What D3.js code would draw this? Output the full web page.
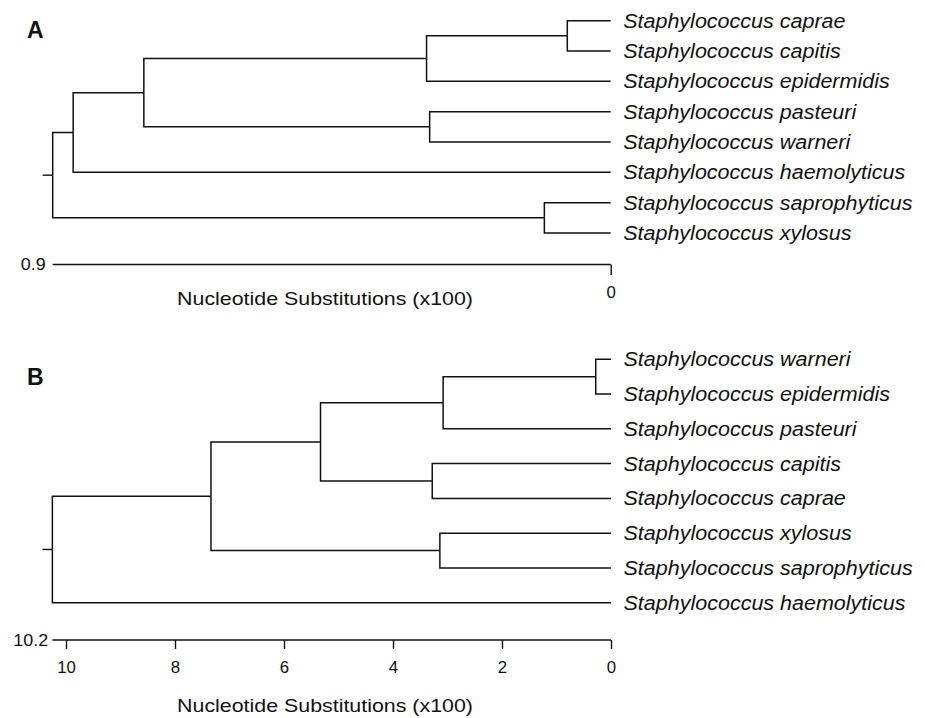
<!DOCTYPE html>
<html>
<head>
<meta charset="utf-8">
<script src="https://cdn.jsdelivr.net/npm/d3@7"></script>
<style>
  body { margin: 0; background: #fff; }
</style>
</head>
<body>
<div id="chart"></div>
<script>
// panel A: leaf order top to bottom, internal nodes [id, children, height]
const leavesA = [
  "Staphylococcus caprae",
  "Staphylococcus capitis",
  "Staphylococcus epidermidis",
  "Staphylococcus pasteuri",
  "Staphylococcus warneri",
  "Staphylococcus haemolyticus",
  "Staphylococcus saprophyticus",
  "Staphylococcus xylosus"
];
const nodesA = [
  ["a1", ["Staphylococcus caprae", "Staphylococcus capitis"], 0.070],
  ["a2", ["a1", "Staphylococcus epidermidis"], 0.297],
  ["a3", ["Staphylococcus pasteuri", "Staphylococcus warneri"], 0.292],
  ["a4", ["a2", "a3"], 0.753],
  ["a5", ["a4", "Staphylococcus haemolyticus"], 0.867],
  ["a6", ["Staphylococcus saprophyticus", "Staphylococcus xylosus"], 0.107],
  ["a7", ["a5", "a6"], 0.9]
];
const ticksA = [0];
const maxA = 0.9;

// panel B
const leavesB = [
  "Staphylococcus warneri",
  "Staphylococcus epidermidis",
  "Staphylococcus pasteuri",
  "Staphylococcus capitis",
  "Staphylococcus caprae",
  "Staphylococcus xylosus",
  "Staphylococcus saprophyticus",
  "Staphylococcus haemolyticus"
];
const nodesB = [
  ["b1", ["Staphylococcus warneri", "Staphylococcus epidermidis"], 0.28],
  ["b2", ["b1", "Staphylococcus pasteuri"], 3.08],
  ["b3", ["Staphylococcus capitis", "Staphylococcus caprae"], 3.28],
  ["b4", ["b2", "b3"], 5.33],
  ["b5", ["Staphylococcus xylosus", "Staphylococcus saprophyticus"], 3.14],
  ["b6", ["b4", "b5"], 7.34],
  ["b7", ["b6", "Staphylococcus haemolyticus"], 10.25]
];
const ticksB = [10, 8, 6, 4, 2, 0];
const maxB = 10.2;

const axisTitle = "Nucleotide Substitutions (x100)";
const ink = "#111";
const font = "'Liberation Sans', Arial, sans-serif";

const svg = d3.select("#chart").append("svg")
    .attr("width", 925)
    .attr("height", 718);

function stretch(sel, k) {
    sel.each(function() {
        const len = this.getComputedTextLength();
        d3.select(this)
            .attr("textLength", len * k)
            .attr("lengthAdjust", "spacingAndGlyphs");
    });
}

function buildTree(nodes) {
    const byId = {};
    nodes.forEach(([id, kids, h]) => {
        byId[id] = {
            name: id,
            height: h,
            children: kids.map(k => byId[k] || { name: k, height: 0 })
        };
    });
    return d3.hierarchy(byId[nodes[nodes.length - 1][0]]);
}

function drawPanel(cfg) {
    const x = d3.scaleLinear()
        .domain([cfg.max, 0])
        .range(cfg.xRange);
    const y = d3.scalePoint()
        .domain(cfg.leaves)
        .range(cfg.yRange);

    const root = buildTree(cfg.nodes);
    root.eachAfter(d => {
        if (d.children) {
            const ys = d.children.map(c => c.py);
            d.py = (d3.min(ys) + d3.max(ys)) / 2;
        } else {
            d.py = y(d.data.name);
        }
    });

    const g = svg.append("g");

    // branches
    g.append("g")
        .attr("fill", "none")
        .attr("stroke", ink)
        .attr("stroke-width", 1.5)
        .selectAll("path")
        .data(root.links())
        .join("path")
        .attr("d", l => `M${x(l.source.data.height)},${l.source.py}V${l.target.py}H${x(l.target.data.height)}`);

    // root stub
    g.append("line")
        .attr("x1", x(root.data.height) - 10)
        .attr("x2", x(root.data.height))
        .attr("y1", root.py)
        .attr("y2", root.py)
        .attr("stroke", ink)
        .attr("stroke-width", 1.4);

    // leaf names
    const labels = g.append("g")
        .selectAll("text")
        .data(root.leaves())
        .join("text")
        .attr("x", x(0) + 12.5)
        .attr("y", d => d.py)
        .attr("dy", "0.35em")
        .attr("font-family", font)
        .attr("font-style", "italic")
        .attr("font-size", "20px")
        .attr("fill", ink)
        .text(d => d.data.name);
    stretch(labels, 1.075);

    // scale axis
    const axis = g.append("g")
        .attr("transform", `translate(0,${cfg.axisY})`)
        .call(d3.axisBottom(x)
            .tickValues(cfg.ticks)
            .tickFormat(d3.format("d"))
            .tickSize(cfg.tickSize)
            .tickPadding(cfg.tickPad));
    axis.select(".domain").remove();
    axis.selectAll(".tick line")
        .attr("stroke", ink)
        .attr("stroke-width", 1.4);
    const tickText = axis.selectAll(".tick text")
        .attr("font-family", font)
        .attr("font-size", "16px")
        .attr("fill", ink);
    stretch(tickText, 1.05);

    axis.append("line")
        .attr("x1", x(d3.max([cfg.max, root.data.height])))
        .attr("x2", x(0))
        .attr("stroke", ink)
        .attr("stroke-width", 1.5);

    const endLabel = axis.append("text")
        .attr("x", x(cfg.max) - 7)
        .attr("y", 0)
        .attr("dy", "0.35em")
        .attr("text-anchor", "end")
        .attr("font-family", font)
        .attr("font-size", "16px")
        .attr("fill", ink)
        .text(cfg.max);
    stretch(endLabel, 1.12);

    const title = g.append("text")
        .attr("x", 325)
        .attr("y", cfg.titleY)
        .attr("dy", "0.35em")
        .attr("text-anchor", "middle")
        .attr("font-family", font)
        .attr("font-size", "19px")
        .attr("fill", ink)
        .text(axisTitle);
    stretch(title, 1.125);

    g.append("text")
        .attr("x", 27)
        .attr("y", cfg.letterY)
        .attr("font-family", "Arial, 'Liberation Sans', sans-serif")
        .attr("font-weight", "bold")
        .attr("font-size", "23px")
        .attr("fill", ink)
        .text(cfg.letter);
}

drawPanel({
    letter: "A", letterY: 37.5,
    leaves: leavesA, nodes: nodesA, max: maxA, ticks: ticksA,
    xRange: [52.7, 610.7], yRange: [20.7, 233],
    axisY: 264.5, tickSize: 10.5, tickPad: 12, titleY: 298
});

drawPanel({
    letter: "B", letterY: 384.5,
    leaves: leavesB, nodes: nodesB, max: maxB, ticks: ticksB,
    xRange: [55.1, 611], yRange: [359.3, 602.7],
    axisY: 640, tickSize: 9, tickPad: 13, titleY: 705
});
</script>
</body>
</html>
